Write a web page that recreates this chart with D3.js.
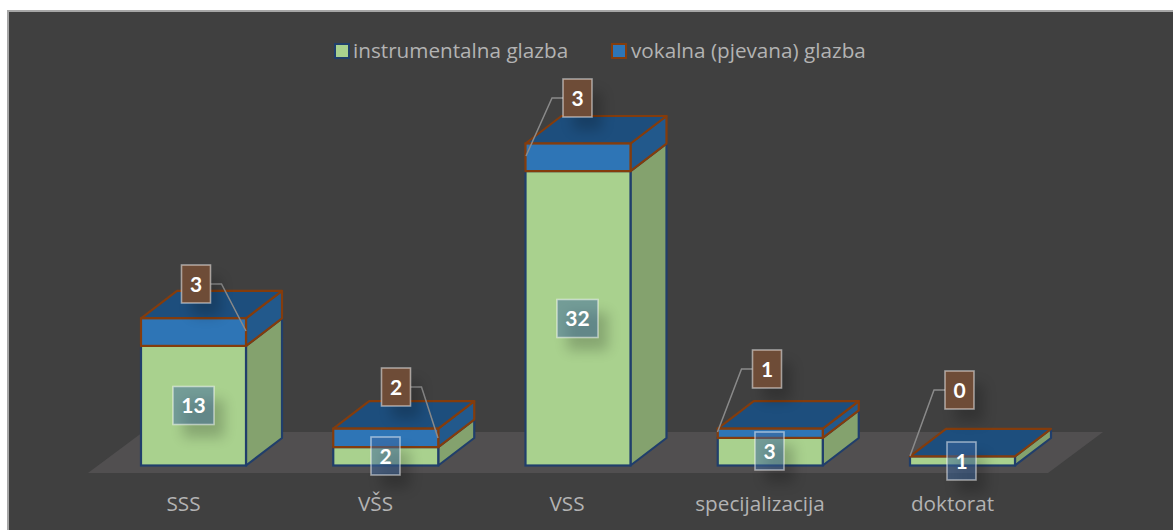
<!DOCTYPE html>
<html><head><meta charset="utf-8">
<script src="https://cdn.jsdelivr.net/npm/d3@7"></script>
<style>html,body{margin:0;padding:0;background:#fff}svg{display:block}</style>
</head><body><svg id="c" width="1173" height="530"></svg>
<script>
const categories = ["SSS","VŠS","VSS","specijalizacija","doktorat"];
const instrumental = [13,2,32,3,1];
const vocal = [3,2,3,1,0];
const seriesNames = ["instrumentalna glazba","vokalna (pjevana) glazba"];

const svg=d3.select("#c");
const defs=svg.append("defs");
const f=defs.append("filter").attr("id","sh").attr("x","-80%").attr("y","-80%").attr("width","260%").attr("height","260%");
f.append("feGaussianBlur").attr("stdDeviation",6.5);

svg.append("rect").attr("x",8).attr("y",11).attr("width",1200).attr("height",560)
  .attr("fill","#404040").attr("stroke","#a6a6a6").attr("stroke-width",2);

const baseY=465.5, depthX=36, depthY=27.5, barW=105;
const x=d3.scalePoint().domain(categories).range([141,910]);
const y=d3.scaleLinear().domain([0,35]).range([baseY,baseY-322]);

svg.append("path").attr("d",d3.line()([[88,473],[143,432],[1103,432],[1048,473]])+"Z").attr("fill","#514f50");

const line=d3.line();
function box(g,x0,yb,yt,front,side,top,stroke,sw,showTop){
  g.append("path").attr("d",line([[x0+barW,yb],[x0+barW+depthX,yb-depthY],[x0+barW+depthX,yt-depthY],[x0+barW,yt]])+"Z")
    .attr("fill",side).attr("stroke",stroke).attr("stroke-width",sw).attr("stroke-linejoin","round");
  if(showTop) g.append("path").attr("d",line([[x0,yt],[x0+depthX,yt-depthY],[x0+barW+depthX,yt-depthY],[x0+barW,yt]])+"Z")
    .attr("fill",top).attr("stroke",stroke).attr("stroke-width",sw).attr("stroke-linejoin","round");
  g.append("rect").attr("x",x0).attr("y",yt).attr("width",barW).attr("height",yb-yt)
    .attr("fill",front).attr("stroke",stroke).attr("stroke-width",sw);
}
const gBars=svg.append("g");
categories.forEach((c,i)=>{
  const g=gBars.append("g"), x0=x(c);
  const a=instrumental[i], b=vocal[i];
  box(g,x0,y(0),y(a),"#a9d18e","#84a26e","#84a26e","#203e6b",2.2,false);
  if(b>0) box(g,x0,y(a),y(a+b),"#2e75b6","#22598c","#1d4e7d","#843c0c",2.2,true);
  else g.append("path").attr("d",line([[x0,y(a)],[x0+depthX,y(a)-depthY],[x0+barW+depthX,y(a)-depthY],[x0+barW,y(a)]])+"Z")
    .attr("fill","#1d4e7d").attr("stroke","#843c0c").attr("stroke-width",2.2).attr("stroke-linejoin","round");
});

// manual data-label placement, as in the reference
const instrBox=[[193.5,405.5],[385.5,456],[577.5,318.5],[769.5,451],[961.5,461]];
const vocalBox=[[196,284],[396,387],[577.5,98],[767,369],[959.5,390]];
const vocalLeader=[[246,331],[438,438],[526,156],[717.5,432],[910,456]];
function labelShadow(cx,cy,w,h){
  svg.append("rect").attr("x",cx-w/2+10).attr("y",cy-h/2+13).attr("width",w).attr("height",h)
    .attr("fill","#000").attr("opacity",.2).attr("filter","url(#sh)");
}
function labelBox(cx,cy,w,h,txt,fill,op){
  svg.append("rect").attr("x",cx-w/2).attr("y",cy-h/2).attr("width",w).attr("height",h)
    .attr("fill",fill).attr("fill-opacity",op).attr("stroke","#fff").attr("stroke-opacity",.5).attr("stroke-width",1.6);
  svg.append("text").attr("x",cx).attr("y",cy).attr("dy","0.36em").attr("text-anchor","middle")
    .attr("font-family","Lato,sans-serif").attr("font-weight",700).attr("font-size",21).attr("fill","#fff").text(txt);
}
vocal.forEach((v,i)=>{
  const [cx,cy]=vocalBox[i],[lx,ly]=vocalLeader[i];
  const right=lx>cx;
  const sx=right?cx+14.5:cx-14.5, kx=right?sx+11:sx-11;
  svg.append("path").attr("d",line([[sx,cy],[kx,cy],[lx,ly]])).attr("fill","none").attr("stroke","#8a8a8a").attr("stroke-width",1.5);
});
instrumental.forEach((v,i)=>{
  const [cx,cy]=instrBox[i], w=v>=10?41:29;
  labelShadow(cx,cy,w,38);
  labelBox(cx,cy,w,38,v,"#3d68a0",.5);
});
vocal.forEach((v,i)=>{
  const [cx,cy]=vocalBox[i];
  labelShadow(cx,cy,29,38);
  labelBox(cx,cy,29,38,v,"#6e4c37",1);
});

const labelCx=[183.5,375.5,567,760,952.5];
const textFont="'Open Sans',sans-serif", textSize=20.7;
categories.forEach((c,i)=>{
  svg.append("text").attr("x",labelCx[i]).attr("y",511).attr("text-anchor","middle")
   .attr("font-family",textFont).attr("font-size",textSize).attr("fill","#b3b3b3").text(c);
});

const leg=[{x:335,s:"#203e6b",c:"#a9d18e",tx:353},{x:612,s:"#843c0c",c:"#2e75b6",tx:631}];
leg.forEach((l,i)=>{
  svg.append("rect").attr("x",l.x).attr("y",44).attr("width",14).attr("height",14).attr("fill",l.c).attr("stroke",l.s).attr("stroke-width",2);
  svg.append("text").attr("x",l.tx).attr("y",58).attr("font-family",textFont).attr("font-size",textSize).attr("fill","#b3b3b3").text(seriesNames[i]);
});
</script></body></html>
